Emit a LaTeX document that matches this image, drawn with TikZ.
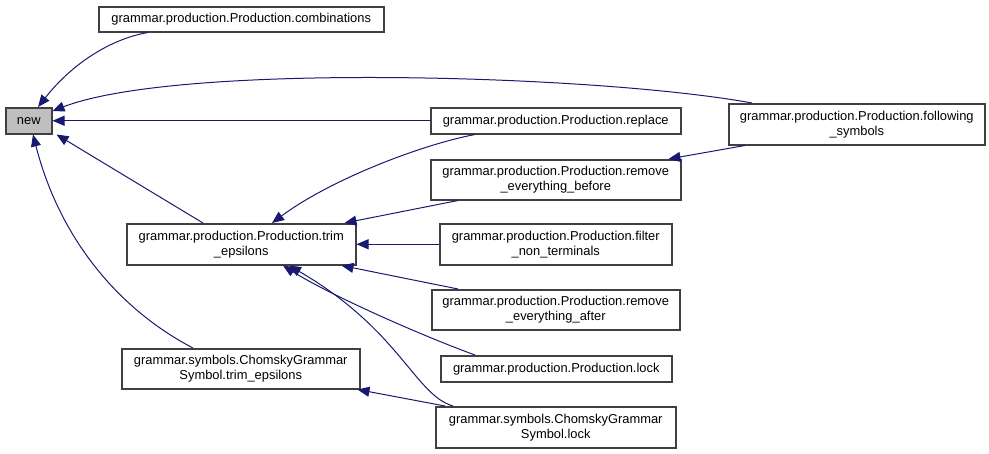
\documentclass[tikz,border=0pt]{standalone}
\usepackage{fontspec}
\setmainfont{Liberation Sans}
\usetikzlibrary{arrows.meta}
\definecolor{callblue}{HTML}{191970}
\definecolor{boxline}{HTML}{404040}
\definecolor{boxgray}{HTML}{BFBFBF}

\begin{document}
\begin{tikzpicture}[x=1pt, y=-1pt,
  fn/.style={draw=boxline, line width=1.5pt, fill=white, anchor=north west,
    inner sep=0pt, align=center, font=\fontsize{12.9}{15}\selectfont},
  call/.style={draw=callblue, line width=1pt,
    -{Triangle[length=12pt,width=10pt]}}]
  % page frame, pixel units (y downwards)
  \useasboundingbox (0,0) rectangle (989,453);

  % the called function
  \node[fn, fill=boxgray, minimum width=46pt, minimum height=26pt] (new) at (5,107) {new};

  % callers
  \node[fn, minimum width=285pt, minimum height=25pt] (combinations) at (98,6)
    {grammar.production.Production.combinations};
  \node[fn, minimum width=250pt, minimum height=26pt] (replace) at (430,107)
    {grammar.production.Production.replace};
  \node[fn, minimum width=250pt, minimum height=40pt] (rmbefore) at (430,159)
    {grammar.production.Production.remove\\\_everything\_before};
  \node[fn, minimum width=256pt, minimum height=41pt] (following) at (728,103)
    {grammar.production.Production.following\\\_symbols};
  \node[fn, minimum width=229pt, minimum height=41pt] (trimeps) at (126,223)
    {grammar.production.Production.trim\\\_epsilons};
  \node[fn, minimum width=238pt, minimum height=40pt] (symtrim) at (121,348)
    {grammar.symbols.ChomskyGrammar\\Symbol.trim\_epsilons};
  \node[fn, minimum width=232pt, minimum height=41pt] (filter) at (439,223)
    {grammar.production.Production.filter\\\_non\_terminals};
  \node[fn, minimum width=248pt, minimum height=40pt] (rmafter) at (431,289)
    {grammar.production.Production.remove\\\_everything\_after};
  \node[fn, minimum width=231pt, minimum height=26pt] (lock) at (440,355)
    {grammar.production.Production.lock};
  \node[fn, minimum width=240pt, minimum height=41pt] (symlock) at (435,406)
    {grammar.symbols.ChomskyGrammar\\Symbol.lock};

  % calls into new
  \draw[call] ([xshift=50pt]combinations.south west) .. controls (115,38) and (75,60)
    .. ([xshift=33pt]new.north west);
  \draw[call] ([xshift=24pt]following.north west) .. controls (600,75) and (180,62)
    .. ([yshift=-4pt]new.north east);
  \draw[call] (replace.west) -- (new.east);
  \draw[call] ([xshift=77pt]trimeps.north west) -- ([xshift=4pt]new.south east);
  \draw[call] ([xshift=72pt]symtrim.north west) .. controls (120,310) and (60,240)
    .. ([xshift=28pt]new.south west);

  % calls into trim_epsilons
  \draw[call] ([xshift=45pt]replace.south west) .. controls (420,145) and (330,180)
    .. ([xshift=146pt]trimeps.north west);
  \draw[call] ([xshift=28pt]rmbefore.south west) -- ([xshift=-12pt]trimeps.north east);
  \draw[call] (filter.west) -- (trimeps.east);
  \draw[call] ([xshift=27pt]rmafter.north west) -- ([xshift=-15pt]trimeps.south east);
  \draw[call] ([xshift=35pt]lock.north west) .. controls (420,335) and (330,295)
    .. ([xshift=157pt]trimeps.south west);
  \draw[call] ([xshift=18pt]symlock.north west) .. controls (415,395) and (400,330)
    .. ([xshift=163pt]trimeps.south west);

  % remaining calls
  \draw[call] ([xshift=17pt]following.south west) -- ([xshift=-13pt]rmbefore.north east);
  \draw[call] ([xshift=10pt]symlock.north west) -- ([xshift=-3pt]symtrim.south east);
\end{tikzpicture}
\end{document}
